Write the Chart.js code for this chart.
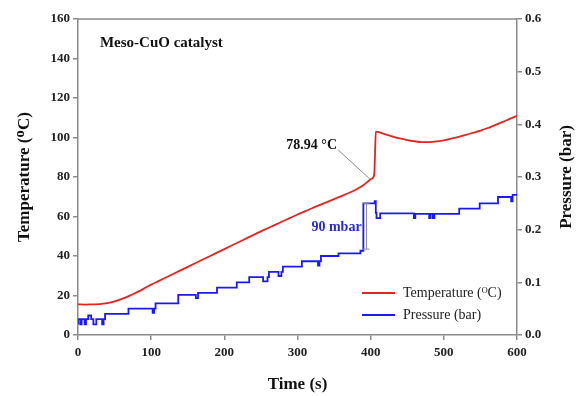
<!DOCTYPE html>
<html>
<head>
<meta charset="utf-8">
<script src="https://cdn.jsdelivr.net/npm/chart.js@4.4.1/dist/chart.umd.min.js"></script>
<style>
  html, body { margin: 0; padding: 0; background: #fff; }
  #wrap { width: 579px; height: 396px; }
</style>
</head>
<body>
<div id="wrap"><canvas id="grafico" width="579" height="396"></canvas></div>
<script>
// Temperatura (eje izquierdo)
const tiempoTemp = [0, 10, 20, 30, 40, 50, 60, 70, 80, 90, 100, 110, 120, 130, 140, 150, 160, 170, 180, 190,
    200, 210, 220, 230, 240, 250, 260, 270, 280, 290, 300, 310, 320, 330, 340, 350, 360, 370, 380, 390,
    400, 403, 405, 406, 407, 410, 420, 430, 440, 450, 460, 470, 480, 490, 500, 510, 520, 530, 540, 550,
    560, 570, 580, 590, 600];
const temperatura = [15.5, 15.4, 15.5, 15.6, 16.1, 17.0, 18.3, 19.8, 21.6, 23.5, 25.5, 27.3, 29.1, 30.9, 32.7, 34.5, 36.3, 38.1, 39.9, 41.7,
    43.5, 45.3, 47.1, 48.9, 50.7, 52.5, 54.2, 55.9, 57.6, 59.3, 61.0, 62.6, 64.2, 65.8, 67.3, 68.8, 70.3, 71.9, 73.7, 75.8,
    78.9, 79.6, 82, 92, 103, 102.8, 101.6, 100.5, 99.5, 98.7, 98.1, 97.7, 97.7, 98.0, 98.6, 99.4, 100.3, 101.3, 102.4, 103.5,
    104.8, 106.3, 107.8, 109.4, 111.0];

// Presion (eje derecho), escalones
const tiempoPres = [0, 3, 5, 9, 11, 14, 18, 21, 25, 33, 35, 37, 69, 102, 104, 106, 137, 161, 164, 190,
    217, 234, 253, 259, 261, 274, 278, 280, 306, 328, 330, 332, 356, 386, 390, 405.5, 407, 408, 413, 459,
    461, 480, 482, 485, 487, 521, 549, 574, 592, 594, 596, 600];
const presion = [0.02, 0.03, 0.02, 0.03, 0.02, 0.03, 0.037, 0.03, 0.02, 0.03, 0.02, 0.03, 0.04, 0.05, 0.042, 0.05, 0.06, 0.076, 0.07, 0.08,
    0.09, 0.10, 0.11, 0.102, 0.11, 0.12, 0.112, 0.12, 0.13, 0.14, 0.132, 0.14, 0.15, 0.155, 0.16, 0.25, 0.254, 0.232, 0.222, 0.231,
    0.222, 0.23, 0.222, 0.23, 0.222, 0.23, 0.24, 0.25, 0.262, 0.254, 0.266, 0.266];

const ticksTemp = [0, 20, 40, 60, 80, 100, 120, 140, 160];
const ticksPres = [0, 0.1, 0.2, 0.3, 0.4, 0.5, 0.6];
const ticksTiempo = [0, 100, 200, 300, 400, 500, 600];

const ROJO = '#e8231f';
const AZUL = '#1b1bf0';
const GRIS = '#8a8a8a';
const SERIF = "'Liberation Serif', 'Times New Roman', serif";

// Dibuja marco superior, titulo derecho, anotaciones y leyenda
const anotaciones = {
    id: 'anotaciones',
    afterDatasetsDraw(chart) {
        const ctx = chart.ctx;
        const area = chart.chartArea;
        const x = chart.scales.x, y = chart.scales.y, y1 = chart.scales.y1;
        ctx.save();
        ctx.strokeStyle = GRIS;
        ctx.lineWidth = 1.5;
        ctx.beginPath();
        ctx.moveTo(area.left, area.top);
        ctx.lineTo(area.right, area.top);
        ctx.stroke();

        // titulo del eje derecho (leido de abajo hacia arriba)
        ctx.save();
        ctx.translate(567, (area.top + area.bottom) / 2);
        ctx.rotate(-Math.PI / 2);
        ctx.font = 'bold 17px ' + SERIF;
        ctx.fillStyle = '#111';
        ctx.textAlign = 'center';
        ctx.textBaseline = 'middle';
        ctx.fillText('Pressure (bar)', 0, 0);
        ctx.restore();

        ctx.fillStyle = '#111';
        ctx.font = 'bold 15px ' + SERIF;
        ctx.textBaseline = 'middle';
        ctx.textAlign = 'left';
        ctx.fillText('Meso-CuO catalyst', x.getPixelForValue(30), y.getPixelForValue(147.7));

        // 78.94 °C
        ctx.font = 'bold 14px ' + SERIF;
        ctx.textAlign = 'right';
        ctx.fillText('78.94 °C', x.getPixelForValue(354), y.getPixelForValue(96.2));
        ctx.strokeStyle = GRIS;
        ctx.lineWidth = 1;
        ctx.beginPath();
        ctx.moveTo(x.getPixelForValue(355.6), y.getPixelForValue(93.7));
        ctx.lineTo(x.getPixelForValue(398.5), y.getPixelForValue(79.1));
        ctx.stroke();

        // 90 mbar
        ctx.fillStyle = '#2a2ad0';
        ctx.fillText('90 mbar', x.getPixelForValue(387.6), y1.getPixelForValue(0.2045));
        const bx = x.getPixelForValue(394.4);
        const bTop = y1.getPixelForValue(0.25);
        const bBot = y1.getPixelForValue(0.163);
        ctx.beginPath();
        ctx.moveTo(bx, bTop); ctx.lineTo(bx, bBot);
        ctx.moveTo(bx - 4, bTop); ctx.lineTo(bx + 3, bTop);
        ctx.moveTo(bx - 4, bBot); ctx.lineTo(bx + 3, bBot);
        ctx.stroke();

        // leyenda
        const items = [['Temperature (ᴼC)', ROJO], ['Pressure (bar)', AZUL]];
        ctx.font = '14px ' + SERIF;
        ctx.textAlign = 'left';
        items.forEach((it, i) => {
            const ly = area.bottom - 42 + i * 22;
            ctx.strokeStyle = it[1];
            ctx.lineWidth = 2;
            ctx.beginPath();
            ctx.moveTo(area.left + 284, ly);
            ctx.lineTo(area.left + 317, ly);
            ctx.stroke();
            ctx.fillStyle = '#222';
            ctx.fillText(it[0], area.left + 325, ly);
        });
        ctx.restore();
    }
};

const puntosTemp = tiempoTemp.map((t, i) => ({ x: t, y: temperatura[i] }));
const puntosPres = tiempoPres.map((t, i) => ({ x: t, y: presion[i] }));

const fuenteTicks = { family: SERIF, size: 13, weight: 'bold' };
const fuenteTitulo = { family: SERIF, size: 17, weight: 'bold' };

new Chart(document.getElementById('grafico'), {
    type: 'line',
    data: {
        datasets: [{
            label: 'Temperature (ᴼC)',
            data: puntosTemp,
            yAxisID: 'y',
            borderColor: ROJO,
            borderWidth: 1.8,
            pointRadius: 0,
            tension: 0.3,
            cubicInterpolationMode: 'monotone'
        }, {
            label: 'Pressure (bar)',
            data: puntosPres,
            yAxisID: 'y1',
            borderColor: AZUL,
            borderWidth: 1.8,
            pointRadius: 0,
            stepped: 'after'
        }]
    },
    options: {
        responsive: false,
        animation: false,
        layout: { padding: { top: 19, left: 0, right: 0, bottom: 0 } },
        plugins: { legend: { display: false }, tooltip: { enabled: false } },
        scales: {
            x: {
                type: 'linear',
                min: 0, max: 600,
                afterBuildTicks: s => { s.ticks = ticksTiempo.map(v => ({ value: v })); },
                afterFit: s => { s.height = 61; },
                ticks: { font: fuenteTicks, color: '#222', padding: 5 },
                grid: { drawOnChartArea: false, tickLength: 5, color: GRIS, lineWidth: 1.5 },
                border: { color: GRIS, width: 1.5 },
                title: { display: true, text: 'Time (s)', font: fuenteTitulo, color: '#111', padding: 1 }
            },
            y: {
                position: 'left',
                min: 0, max: 160,
                afterBuildTicks: s => { s.ticks = ticksTemp.map(v => ({ value: v })); },
                afterFit: s => { s.width = 78; },
                ticks: { font: fuenteTicks, color: '#222', padding: 3 },
                grid: { drawOnChartArea: false, tickLength: 5, color: GRIS, lineWidth: 1.5 },
                border: { color: GRIS, width: 1.5 },
                title: { display: true, text: 'Temperature (ᴼC)', font: fuenteTitulo, color: '#111', padding: { top: 14 } }
            },
            y1: {
                position: 'right',
                min: 0, max: 0.6,
                afterBuildTicks: s => { s.ticks = ticksPres.map(v => ({ value: v })); },
                afterFit: s => { s.width = 62; },
                ticks: { font: fuenteTicks, color: '#222', padding: 3, callback: v => v.toFixed(1) },
                grid: { drawOnChartArea: false, tickLength: 5, color: GRIS, lineWidth: 1.5 },
                border: { color: GRIS, width: 1.5 },
                title: { display: false }
            }
        }
    },
    plugins: [anotaciones]
});
</script>
</body>
</html>
